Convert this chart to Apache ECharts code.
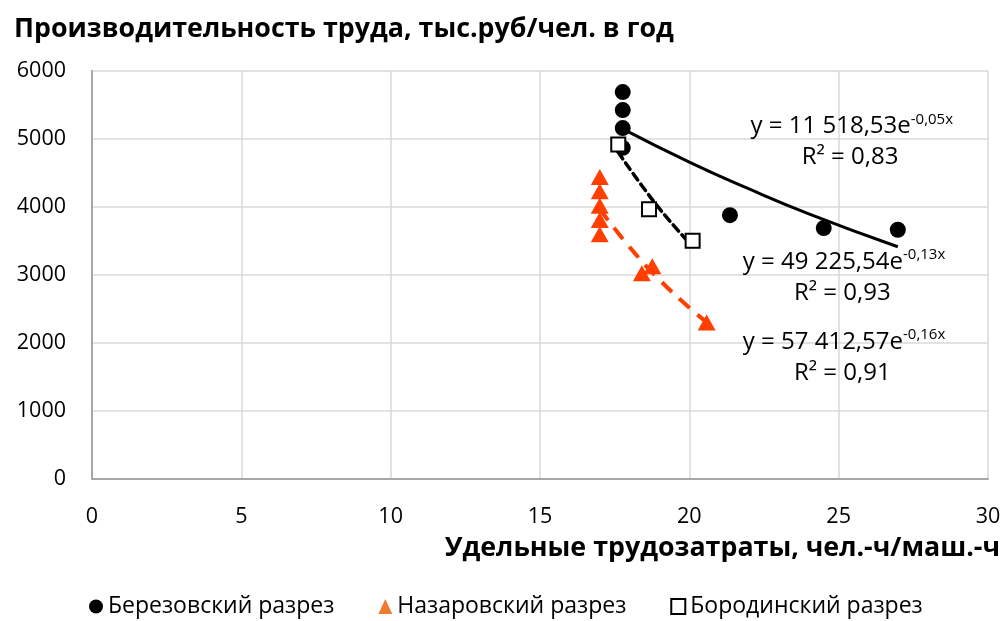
<!DOCTYPE html>
<html><head><meta charset="utf-8">
<script src="https://cdn.jsdelivr.net/npm/echarts@6/dist/echarts.min.js"></script>
<style>html,body{margin:0;padding:0;background:#fff}#c{width:1007px;height:621px}</style>
</head><body><div id="c"></div>
<script>
// ---- data ----
const seriesNames = ['Березовский разрез', 'Назаровский разрез', 'Бородинский разрез'];
const berezX = [17.77, 17.77, 17.77, 17.77, 21.36, 24.5, 26.98];
const berezY = [5690, 5425, 5160, 4870, 3880, 3690, 3665];
const nazarX = [17.0, 17.0, 17.0, 17.0, 17.0, 18.41, 18.76, 20.58];
const nazarY = [4440, 4230, 4020, 3810, 3600, 3025, 3130, 2300];
const borodX = [17.62, 18.65, 20.11];
const borodY = [4920, 3966, 3504];
// trendlines
const berezTrendX = [17.77, 20, 22, 24, 26.98];
const berezTrendY = [5150, 4660, 4265, 3900, 3415];
const borodTrendX = [17.62, 18.4, 19.2, 20.11];
const borodTrendY = [4805, 4320, 3870, 3420];
const nazarTrendX = [17.0, 18.0, 19.0, 20.0, 20.58];
const nazarTrendY = [3970, 3410, 2930, 2520, 2305];
const xTicks = [0, 5, 10, 15, 20, 25, 30];
const yTicks = [0, 1000, 2000, 3000, 4000, 5000, 6000];
const eqMain = ['y = 11 518,53e', 'y = 49 225,54e', 'y = 57 412,57e'];
const eqExp = ['-0,05x', '-0,13x', '-0,16x'];
const eqR2 = ['R² = 0,83', 'R² = 0,93', 'R² = 0,91'];
const yTitle = 'Производительность труда, тыс.руб/чел. в год';
const xTitle = 'Удельные трудозатраты, чел.-ч/маш.-ч';

// annotation anchors in data units
const eqAnchors = [[25.44, 5188], [25.18, 3196], [25.18, 2019]];
const r2Anchors = [[25.38, 4727], [25.12, 2739], [25.12, 1558]];

const zip = (xs, ys) => xs.map((x, i) => [x, ys[i]]);
const FONT = '"Open Sans", "Noto Sans", sans-serif';
const RED = '#FF3F00';

const chart = echarts.init(document.getElementById('c'), null, {renderer: 'canvas'});
const option = {
  animation: false,
  backgroundColor: '#fff',
  textStyle: {fontFamily: FONT},
  title: {
    text: yTitle, left: 9, top: 11,
    textStyle: {fontFamily: FONT, fontSize: 26.8, fontWeight: 'bold', color: '#000'}
  },
  grid: {left: 92, right: 19, top: 71, bottom: 142, containLabel: false},
  xAxis: {
    type: 'value', min: xTicks[0], max: xTicks[xTicks.length - 1], interval: 5,
    axisLine: {show: true, lineStyle: {color: '#a6a6a6', width: 2}},
    axisTick: {show: false},
    splitLine: {show: true, lineStyle: {color: '#d9d9d9', width: 1.5}},
    axisLabel: {fontSize: 21.5, color: '#000', margin: 27, fontFamily: FONT, formatter: v => String(v)}
  },
  yAxis: {
    type: 'value', min: yTicks[0], max: yTicks[yTicks.length - 1], interval: 1000,
    axisLine: {show: true, lineStyle: {color: '#a6a6a6', width: 2}},
    axisTick: {show: false},
    splitLine: {show: true, lineStyle: {color: '#d9d9d9', width: 1.5}},
    axisLabel: {fontSize: 21.5, color: '#000', margin: 26, fontFamily: FONT, formatter: v => String(v)}
  },
  legend: {
    data: [
      {name: seriesNames[0], icon: 'circle'},
      {name: seriesNames[1], icon: 'triangle', itemStyle: {color: '#ED7D31'}},
      {name: seriesNames[2], icon: 'rect'}
    ],
    left: 84, top: 590, itemGap: 44, itemWidth: 14, itemHeight: 15,
    textStyle: {fontSize: 23, color: '#000', fontFamily: FONT}
  },
  series: [
    {name: 'trendB', type: 'line', data: zip(berezTrendX, berezTrendY), smooth: true, showSymbol: false, silent: true, z: 1,
      lineStyle: {color: '#000', width: 3}},
    {name: 'trendBo', type: 'line', data: zip(borodTrendX, borodTrendY), smooth: true, showSymbol: false, silent: true, z: 1,
      lineStyle: {color: '#000', width: 3.5, type: [8, 5], cap: 'round'}},
    {name: 'trendN', type: 'line', data: zip(nazarTrendX, nazarTrendY), smooth: true, showSymbol: false, silent: true, z: 1,
      lineStyle: {color: RED, width: 4, type: [14, 10]}},
    {name: seriesNames[0], type: 'scatter', data: zip(berezX, berezY), symbol: 'circle', symbolSize: 16, z: 3,
      itemStyle: {color: '#000', opacity: 1}},
    {name: seriesNames[1], type: 'scatter', data: zip(nazarX, nazarY), symbol: 'triangle', symbolSize: [18, 16], z: 3,
      itemStyle: {color: RED, opacity: 1}},
    {name: seriesNames[2], type: 'scatter', data: zip(borodX, borodY), symbol: 'rect', symbolSize: 14, z: 4,
      itemStyle: {color: '#fff', borderColor: '#000', borderWidth: 2, opacity: 1}}
  ]
};
chart.setOption(option);

const graphics = [{
  type: 'text', right: 7, top: 535,
  style: {text: xTitle, fontFamily: FONT, fontSize: 26.8, fontWeight: 'bold', fill: '#000'}
}];
eqMain.forEach((m, i) => {
  const p = chart.convertToPixel({gridIndex: 0}, eqAnchors[i]);
  const q = chart.convertToPixel({gridIndex: 0}, r2Anchors[i]);
  graphics.push({
    type: 'text', x: p[0], y: p[1], z: 10,
    style: {
      text: '{m|' + m + '}{s|' + eqExp[i] + '}',
      align: 'center', verticalAlign: 'middle',
      rich: {
        m: {fontFamily: FONT, fontSize: 24, fill: '#000', lineHeight: 28},
        s: {fontFamily: FONT, fontSize: 15, fill: '#000', lineHeight: 16, verticalAlign: 'top'}
      }
    }
  });
  graphics.push({
    type: 'text', x: q[0], y: q[1], z: 10,
    style: {text: eqR2[i], align: 'center', verticalAlign: 'middle', fontFamily: FONT, fontSize: 24, fill: '#000'}
  });
});
chart.setOption({graphic: graphics});
</script>
</body></html>
